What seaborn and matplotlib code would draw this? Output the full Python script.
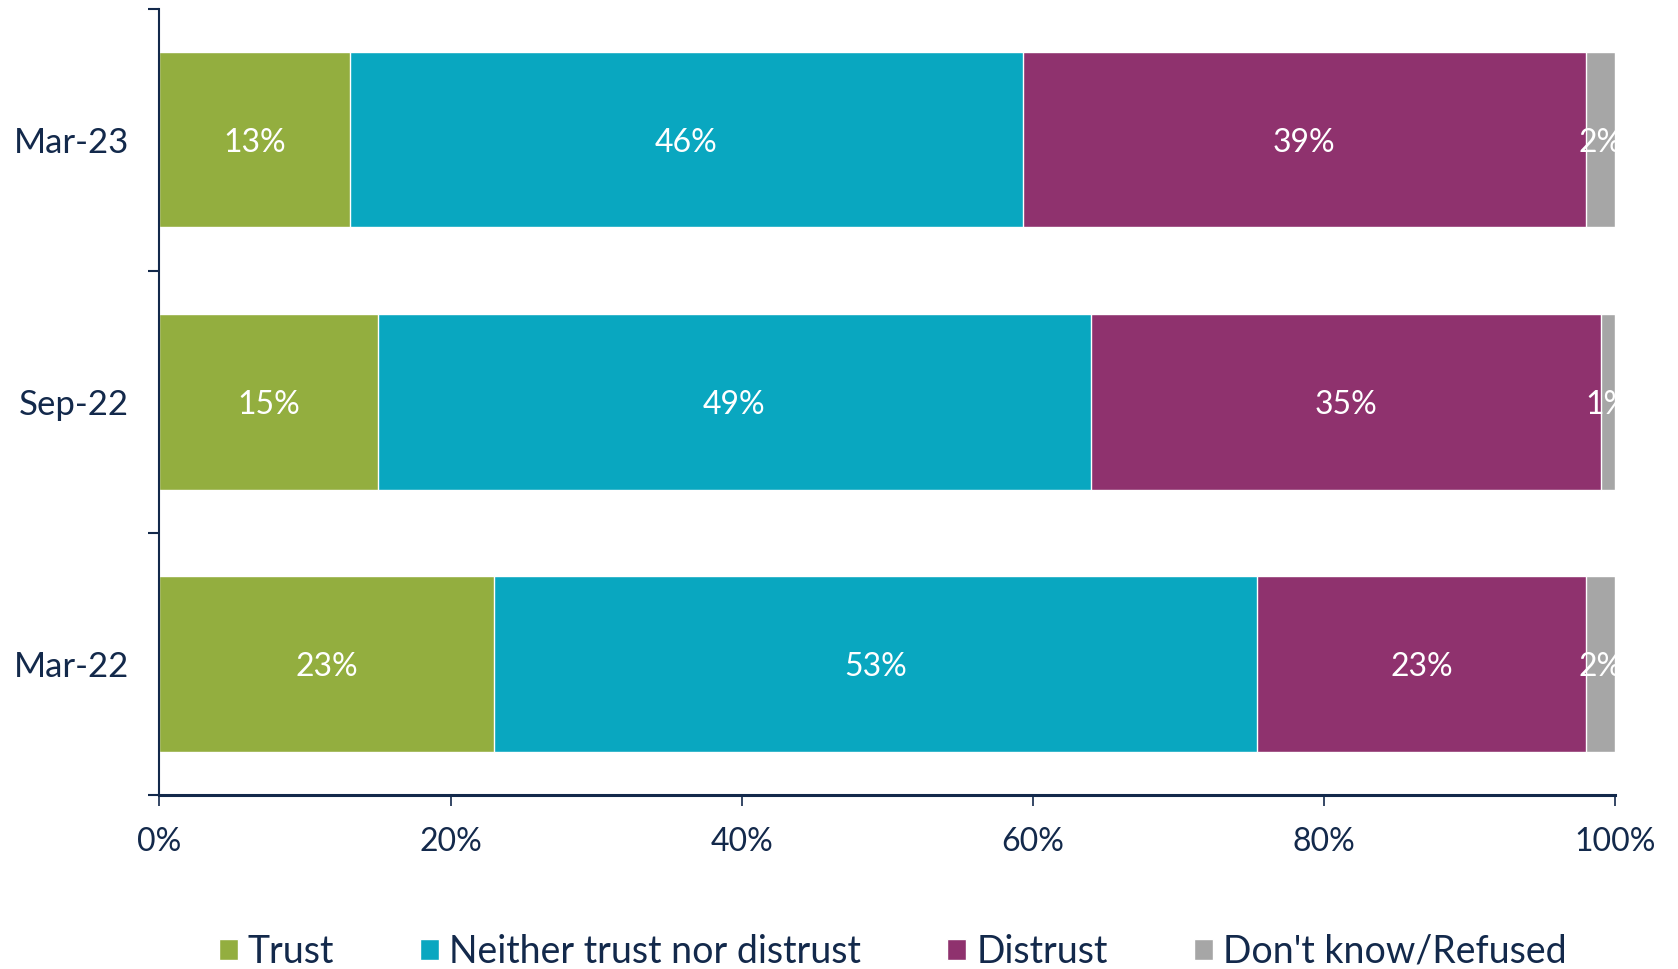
import numpy as np
import pandas as pd
import seaborn as sns
import matplotlib.pyplot as plt
from matplotlib.patches import Patch

# data
periods = ["Mar-23", "Sep-22", "Mar-22"]
series = ["Trust", "Neither trust nor distrust", "Distrust", "Don't know/Refused"]
trust = [13.1, 15.0, 23.0]
neither = [46.2, 49.0, 52.4]
distrust = [38.7, 35.0, 22.6]
dontknow = [2.0, 1.0, 2.0]
labels = [["13%", "46%", "39%", "2%"],
          ["15%", "49%", "35%", "1%"],
          ["23%", "53%", "23%", "2%"]]
colors = ["#93AE3F", "#09A7C0", "#8F326E", "#A6A6A6"]
navy = "#13294B"

sns.set_theme(style="white")
plt.rcParams['font.family'] = ['Lato', 'DejaVu Sans']

df = pd.DataFrame({"period": periods, "Trust": trust,
                   "Neither trust nor distrust": neither,
                   "Distrust": distrust, "Don't know/Refused": dontknow})
cum = df[series].cumsum(axis=1)

fig = plt.figure(figsize=(16.78, 9.69), dpi=100)
ax = fig.add_axes([0.095, 0.1796, 0.8675, 0.8116])

# stacked bars: draw cumulative totals back to front
for s, c in reversed(list(zip(series, colors))):
    sns.barplot(x=cum[s], y=df["period"], color=c, orient="h", width=0.67,
                saturation=1, ax=ax)

for i, p in enumerate(periods):
    for j, s in enumerate(series):
        v = df.loc[i, s]
        ax.text(cum.loc[i, s] - v / 2, i, labels[i][j], ha="center",
                va="center_baseline", color="white", fontsize=23)

ax.set_xlim(0, 100)
ax.set_ylim(2.5, -0.5)
ax.set_xticks(np.arange(0, 101, 20))
ax.set_xticklabels([f"{t}%" for t in range(0, 101, 20)])
ax.set_yticks([-0.5, 0.5, 1.5, 2.5], minor=True)
ax.tick_params(axis="y", which="minor", length=8, width=1.5, color=navy, left=True)
ax.tick_params(axis="y", which="major", length=0, pad=22, labelsize=25, labelcolor=navy)
ax.tick_params(axis="x", length=8, width=1.2, color=navy, pad=15, labelsize=23,
               labelcolor=navy, bottom=True)
ax.set_xlabel("")
ax.set_ylabel("")
sns.despine(ax=ax)
ax.spines["left"].set_color(navy)
ax.spines["left"].set_linewidth(1.5)
ax.spines["bottom"].set_color(navy)
ax.spines["bottom"].set_linewidth(2.2)

handles = [Patch(facecolor=c, label=s) for s, c in zip(series, colors)]
fig.legend(handles=handles, loc="center", bbox_to_anchor=(0.532, 0.018), ncol=4,
           frameon=False, fontsize=27, handlelength=0.5, handleheight=0.5,
           handletextpad=0.27, columnspacing=2.3, labelcolor=navy)

fig.savefig("out.png", dpi=100)
